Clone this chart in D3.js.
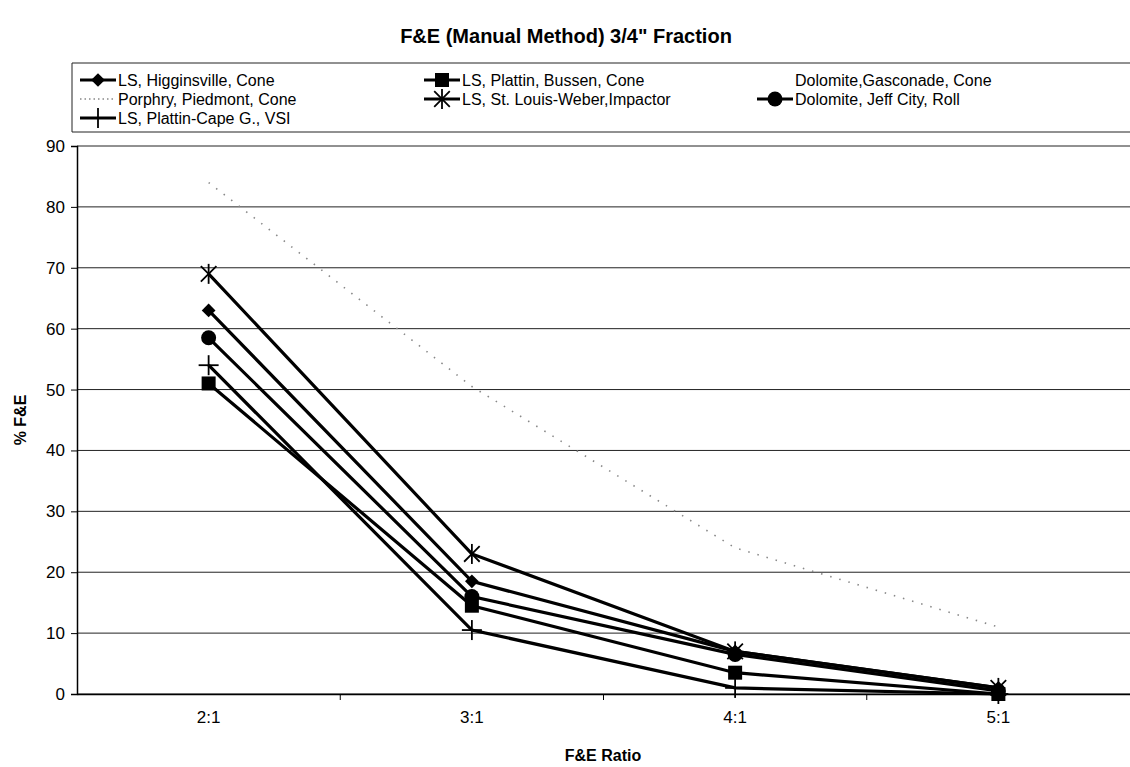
<!DOCTYPE html>
<html>
<head>
<meta charset="utf-8">
<script src="https://cdn.jsdelivr.net/npm/d3@7/dist/d3.min.js"></script>
<style>
  body { margin: 0; background: #fff; }
  svg { display: block; font-family: "Liberation Sans", Arial, sans-serif; }
</style>
</head>
<body>
<div id="chart"></div>
<script>
// F&E ratios along the x axis
const categories = ["2:1", "3:1", "4:1", "5:1"];

// % F&E per material
const higginsville = [63, 18.5, 7, 1];
const bussen = [51, 14.5, 3.5, 0];
const gasconade = []; // no line visible in the scan
const porphyry = [84, 50.5, 24, 11];
const weber = [69, 23, 7, 1];
const jeffCity = [58.5, 16, 6.5, 0.5];
const capeG = [54, 10.5, 1, 0];

const yTicks = [0, 10, 20, 30, 40, 50, 60, 70, 80, 90];

const series = [
  { name: "LS, Higginsville, Cone", values: higginsville, marker: "diamond" },
  { name: "LS, Plattin, Bussen, Cone", values: bussen, marker: "square" },
  { name: "Dolomite,Gasconade, Cone", values: gasconade, marker: "none" },
  { name: "Porphry, Piedmont, Cone", values: porphyry, marker: "none", dotted: true },
  { name: "LS, St. Louis-Weber,Impactor", values: weber, marker: "star" },
  { name: "Dolomite, Jeff City, Roll", values: jeffCity, marker: "circle" },
  { name: "LS, Plattin-Cape G., VSI", values: capeG, marker: "plus" }
];

const width = 1130, height = 767;
const plot = { left: 77, right: 1130, top: 146, bottom: 694 };

const svg = d3.select("#chart").append("svg")
  .attr("width", width)
  .attr("height", height);

const x = d3.scaleBand().domain(categories).range([plot.left, plot.right]);
const y = d3.scaleLinear().domain([0, 90]).range([plot.bottom, plot.top]);
const cx = (c) => x(c) + x.bandwidth() / 2;

// title
svg.append("text")
  .attr("x", 566).attr("y", 43)
  .attr("text-anchor", "middle")
  .attr("font-size", "20px").attr("font-weight", "bold")
  .text("F&E (Manual Method) 3/4\" Fraction");

// gridlines
svg.append("g")
  .selectAll("line")
  .data(yTicks)
  .join("line")
  .attr("x1", plot.left).attr("x2", plot.right)
  .attr("y1", (d) => y(d)).attr("y2", (d) => y(d))
  .attr("stroke", "#222").attr("stroke-width", 1);

// y axis
const yAxis = svg.append("g")
  .attr("transform", `translate(${plot.left},0)`)
  .call(d3.axisLeft(y).tickValues(yTicks).tickSize(6).tickPadding(6));
yAxis.select(".domain").attr("stroke", "#000").attr("stroke-width", 1.5);
yAxis.selectAll("text").attr("font-size", "17px").attr("fill", "#000")
  .attr("font-family", "Liberation Sans, Arial, sans-serif");

// x axis with ticks between categories
const xAxis = svg.append("g")
  .attr("transform", `translate(0,${plot.bottom})`)
  .call(d3.axisBottom(x).tickSize(0).tickPadding(17));
xAxis.select(".domain").attr("stroke", "#000").attr("stroke-width", 1.5);
xAxis.selectAll("text").attr("font-size", "17px").attr("fill", "#000")
  .attr("font-family", "Liberation Sans, Arial, sans-serif");
xAxis.selectAll(".sep")
  .data(categories.slice(1))
  .join("line")
  .attr("class", "sep")
  .attr("x1", (d) => x(d)).attr("x2", (d) => x(d))
  .attr("y1", 0).attr("y2", 6)
  .attr("stroke", "#000");

// axis titles
svg.append("text")
  .attr("x", 603).attr("y", 761)
  .attr("text-anchor", "middle")
  .attr("font-size", "16px").attr("font-weight", "bold")
  .text("F&E Ratio");
svg.append("text")
  .attr("transform", `translate(26,${(plot.top + plot.bottom) / 2}) rotate(-90)`)
  .attr("text-anchor", "middle")
  .attr("font-size", "16px").attr("font-weight", "bold")
  .text("% F&E");

function drawMarker(g, type) {
  if (type === "diamond") {
    g.append("path").attr("d", d3.symbol(d3.symbolDiamond2 || d3.symbolDiamond, 120)()).attr("fill", "#000");
  } else if (type === "square") {
    g.append("rect").attr("x", -7).attr("y", -7).attr("width", 14).attr("height", 14).attr("fill", "#000");
  } else if (type === "circle") {
    g.append("circle").attr("r", 7.5).attr("fill", "#000");
  } else if (type === "star") {
    g.append("path").attr("d", d3.symbol(d3.symbolTimes, 160)()).attr("stroke", "#000").attr("stroke-width", 1.8).attr("fill", "none");
    g.append("line").attr("x1", 0).attr("x2", 0).attr("y1", -10).attr("y2", 10).attr("stroke", "#000").attr("stroke-width", 1.8);
  } else if (type === "plus") {
    g.append("line").attr("x1", -10).attr("x2", 10).attr("y1", 0).attr("y2", 0).attr("stroke", "#000").attr("stroke-width", 1.8);
    g.append("line").attr("x1", 0).attr("x2", 0).attr("y1", -10).attr("y2", 10).attr("stroke", "#000").attr("stroke-width", 1.8);
  }
}

const line = d3.line()
  .x((d) => cx(d.cat))
  .y((d) => y(d.v));

const seriesG = svg.append("g");
series.forEach((s) => {
  const pts = s.values.map((v, i) => ({ cat: categories[i], v }));
  if (!pts.length) return;
  seriesG.append("path")
    .datum(pts)
    .attr("d", line)
    .attr("fill", "none")
    .attr("stroke", s.dotted ? "#888" : "#000")
    .attr("stroke-width", s.dotted ? 1.6 : 3.2)
    .attr("stroke-dasharray", s.dotted ? "1.5,8" : null);
  if (s.marker !== "none") {
    pts.forEach((p) => {
      const g = seriesG.append("g").attr("transform", `translate(${cx(p.cat)},${y(p.v)})`);
      drawMarker(g, s.marker);
    });
  }
});

// legend
const legendCols = [80, 424, 757];
const legendRows = [80, 99, 118];
const legend = svg.append("g");
legend.append("line").attr("x1", 72).attr("x2", 1130).attr("y1", 63).attr("y2", 63).attr("stroke", "#222");
legend.append("line").attr("x1", 72).attr("x2", 1130).attr("y1", 132).attr("y2", 132).attr("stroke", "#222");
legend.append("line").attr("x1", 72).attr("x2", 72).attr("y1", 63).attr("y2", 132).attr("stroke", "#222");

series.forEach((s, i) => {
  const col = i % 3, row = Math.floor(i / 3);
  const g = legend.append("g")
    .attr("transform", `translate(${legendCols[col]},${legendRows[row]})`);
  if (s.marker !== "none" || s.dotted) {
    g.append("line").attr("x1", 0).attr("x2", 36).attr("y1", 0).attr("y2", 0)
      .attr("stroke", s.dotted ? "#888" : "#000")
      .attr("stroke-width", s.dotted ? 1.6 : 3)
      .attr("stroke-dasharray", s.dotted ? "1.5,3" : null);
    const m = g.append("g").attr("transform", "translate(18,0)");
    drawMarker(m, s.marker);
  }
  g.append("text")
    .attr("x", 38).attr("y", 6)
    .attr("font-size", "16px")
    .text(s.name);
});
</script>
</body>
</html>
